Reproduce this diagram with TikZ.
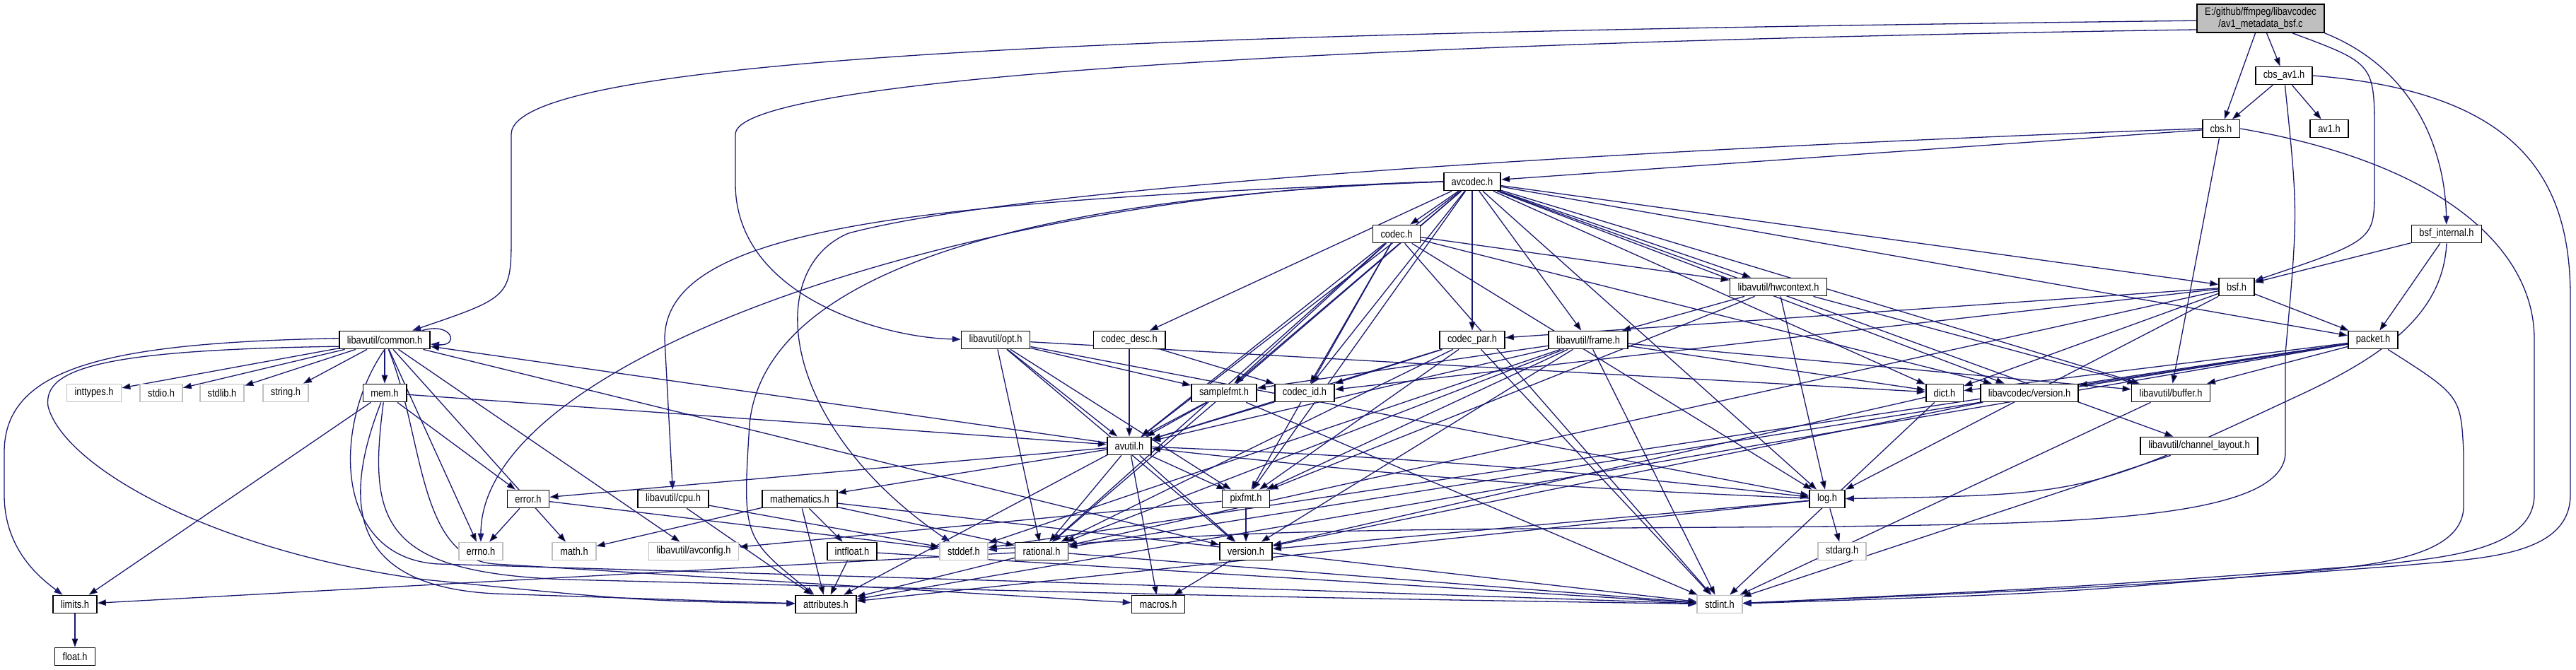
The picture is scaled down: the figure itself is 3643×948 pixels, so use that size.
\documentclass[tikz,border=0pt]{standalone}
\usepackage{fontspec}
\usetikzlibrary{arrows.meta}
\newfontfamily\dotfont[FakeStretch=0.85]{Liberation Sans}
\definecolor{edgeblue}{RGB}{25,25,112}
\definecolor{sysgray}{RGB}{191,191,191}
\pgfdeclarelayer{edges}
\pgfsetlayers{edges,main}
\tikzset{>={Triangle[length=2.4mm,width=1.7mm]}}

\begin{document}
\begin{tikzpicture}[x=0.2mm,y=-0.2mm,
   hdr/.style={draw=black,line width=0.35mm,fill=white,minimum height=5mm,inner xsep=2.2mm,inner ysep=0pt,font={\dotfont\fontsize{8.6pt}{9.6pt}\selectfont}},
   sys/.style={hdr,draw=sysgray},
   src/.style={hdr,fill=sysgray,minimum height=8mm,align=center},
   dep/.style={->,draw=edgeblue,line width=0.26mm}]
  \useasboundingbox (0,0) rectangle (3643,948);
  \node[src] (root) at (3197,26) {E:/github/ffmpeg/libavcodec\\/av1\_metadata\_bsf.c};
  \node[hdr] (cbsavone) at (3230,107) {cbs\_av1.h};
  \node[hdr] (cbs) at (3141,182) {cbs.h};
  \node[hdr] (avone) at (3294,182) {av1.h};
  \node[hdr] (avcodec) at (2082,257) {avcodec.h};
  \node[hdr] (codec) at (1975,331) {codec.h};
  \node[hdr] (bsfint) at (3460,331) {bsf\_internal.h};
  \node[hdr] (hwctx) at (2515,406) {libavutil/hwcontext.h};
  \node[hdr] (bsf) at (3163,406) {bsf.h};
  \node[hdr] (common) at (544,481) {libavutil/common.h};
  \node[hdr] (opt) at (1408,481) {libavutil/opt.h};
  \node[hdr] (codecdesc) at (1597,481) {codec\_desc.h};
  \node[hdr] (codecpar) at (2082,481) {codec\_par.h};
  \node[hdr] (frame) at (2246,481) {libavutil/frame.h};
  \node[hdr] (packet) at (3356,481) {packet.h};
  \node[sys] (inttypes) at (133,556) {inttypes.h};
  \node[sys] (stdio) at (228,556) {stdio.h};
  \node[sys] (stdlib) at (314,556) {stdlib.h};
  \node[sys] (string) at (404,556) {string.h};
  \node[hdr] (mem) at (544,556) {mem.h};
  \node[hdr] (samplefmt) at (1731,556) {samplefmt.h};
  \node[hdr] (codecid) at (1845,556) {codec\_id.h};
  \node[hdr] (dict) at (2750,556) {dict.h};
  \node[hdr] (lavcver) at (2870,556) {libavcodec/version.h};
  \node[hdr] (buffer) at (3070,556) {libavutil/buffer.h};
  \node[hdr] (avutil) at (1597,631) {avutil.h};
  \node[hdr] (chlayout) at (3110,631) {libavutil/channel\_layout.h};
  \node[hdr] (error) at (747,706) {error.h};
  \node[hdr] (cpu) at (952,706) {libavutil/cpu.h};
  \node[hdr] (mathem) at (1131,706) {mathematics.h};
  \node[hdr] (pixfmt) at (1762,706) {pixfmt.h};
  \node[hdr] (log) at (2584,706) {log.h};
  \node[sys] (errno) at (680,780) {errno.h};
  \node[sys] (math) at (812,780) {math.h};
  \node[sys] (avconfig) at (981,780) {libavutil/avconfig.h};
  \node[hdr] (intfloat) at (1205,780) {intfloat.h};
  \node[sys] (stddef) at (1363,780) {stddef.h};
  \node[hdr] (rational) at (1473,780) {rational.h};
  \node[hdr] (version) at (1762,780) {version.h};
  \node[sys] (stdarg) at (2605,780) {stdarg.h};
  \node[hdr] (limits) at (106,855) {limits.h};
  \node[hdr] (attributes) at (1168,855) {attributes.h};
  \node[hdr] (macros) at (1638,855) {macros.h};
  \node[sys] (stdint) at (2432,855) {stdint.h};
  \node[hdr] (float) at (106,929) {float.h};
  \begin{pgfonlayer}{edges}
  \draw[dep] (root.182) .. controls (1800,45) and (723,70) .. (723,190) -- (723,330) .. controls (723,420) .. (common);
  \draw[dep] (root.190) .. controls (1900,60) and (1040,110) .. (1040,190) -- (1040,260) .. controls (1040,420) and (1250,478) .. (opt);
  \draw[dep] (root) edge (cbs) edge (cbsavone);
  \draw[dep] ([xshift=9mm]root.south) .. controls (3358,90) .. (3358,190) -- (3358,267) .. controls (3358,340) .. (bsf);
  \draw[dep] (root.south east) .. controls (3420,100) and (3458,220) .. (bsfint);
  \draw[dep] (cbsavone) edge (cbs) edge (avone);
  \draw[dep] (cbsavone.east) .. controls (3560,130) and (3635,250) .. (3635,420) -- (3635,700) .. controls (3635,790) and (3500,790) .. (3400,800) .. controls (3000,830) .. (stdint);
  \draw[dep] (cbsavone) .. controls (3250,300) .. (3232,500) -- (3232,640) .. controls (3232,740) and (2900,740) .. (2600,745) .. controls (1800,750) .. (stddef);
  \draw[dep] (cbs) edge (avcodec) edge (buffer);
  \draw[dep] (cbs.west) .. controls (2600,200) and (1500,250) .. (1200,330) .. controls (1080,380) and (1100,600) .. (stddef);
  \draw[dep] (cbs.east) .. controls (3450,230) and (3584,350) .. (3584,480) -- (3584,700) .. controls (3584,780) and (3450,790) .. (3350,800) .. controls (2950,830) .. (stdint);
  \draw[dep] (avcodec.west) .. controls (1400,270) and (680,500) .. (errno);
  \draw[dep] (avcodec.west) .. controls (1300,285) and (940,320) .. (940,480) -- (cpu);
  \draw[dep] (avcodec.west) .. controls (1400,280) and (1080,400) .. (1060,600) .. controls (1050,760) .. (attributes);
  \draw[dep] (avcodec) edge (samplefmt) edge (avutil) edge (codec) edge (codecdesc) edge (codecpar) edge (codecid)
     edge (frame) edge (hwctx) edge (log) edge (pixfmt) edge (rational) edge (dict) edge (lavcver) edge (buffer)
     edge (chlayout) edge (bsf) edge (packet);
  \draw[dep] (codec) edge (stdint) edge (avutil) edge (hwctx) edge (log) edge (pixfmt) edge (rational) edge (samplefmt)
     edge (codecid) edge (lavcver);
  \draw[dep] (bsfint) edge (bsf) edge (packet);
  \draw[dep] (bsfint.south) .. controls (3455,440) and (3380,500) .. (3250,560) .. controls (2950,700) .. (log);
  \draw[dep] (hwctx) edge (buffer) edge (frame) edge (log) edge (pixfmt);
  \draw[dep] (bsf) edge (dict) edge (log) edge (rational) edge (codecid) edge (codecpar) edge (packet);
  \draw[dep] (common) edge (inttypes) edge (stdio) edge (stdlib) edge (string) edge (mem) edge (errno) edge (math)
     edge (avconfig) edge (version);
  \draw[dep] (common.178) .. controls (150,485) and (6,520) .. (6,640) -- (6,700) .. controls (6,780) and (60,820) .. (limits);
  \draw[dep] (common.188) .. controls (150,495) and (60,520) .. (68,575) .. controls (90,660) and (300,780) .. (600,820) .. controls (900,850) .. (attributes);
  \draw[dep] (common.south) .. controls (470,600) and (470,790) .. (620,798) .. controls (1700,830) .. (stdint);
  \draw[dep] (common) .. controls (600,620) and (590,790) .. (700,798) .. controls (1300,835) .. (macros);
  \draw[dep] ([xshift=-2.4mm]common.north east) .. controls (640,455) and (650,490) .. ([yshift=-1.2mm]common.east);
  \draw[dep] (mem) edge (limits) edge (error) edge (avutil);
  \draw[dep] (mem) .. controls (480,720) and (500,830) .. (700,840) .. controls (1000,850) .. (attributes);
  \draw[dep] (mem) .. controls (520,740) and (540,810) .. (800,820) .. controls (1800,845) .. (stdint);
  \draw[dep] (opt) edge (rational) edge (avutil) edge (dict) edge (log) edge (pixfmt) edge (samplefmt) edge (version);
  \draw[dep] (codecdesc) edge (avutil) edge (codecid);
  \draw[dep] (codecpar) edge (stdint) edge (avutil) edge (rational) edge (pixfmt) edge (codecid);
  \draw[dep] (frame) edge (stddef) edge (stdint) edge (avutil) edge (buffer) edge (dict) edge (rational) edge (samplefmt)
     edge (pixfmt) edge (version);
  \draw[dep] (packet) edge (stddef) edge (attributes) edge (buffer) edge (dict) edge (rational) edge (lavcver);
  \draw[dep] (packet) .. controls (3480,560) .. (3484,640) -- (3484,716) .. controls (3484,790) and (3350,800) .. (3250,810) .. controls (2900,840) .. (stdint);
  \draw[dep] (samplefmt) edge (stdint) edge (avutil) edge (attributes);
  \draw[dep] (codecid) edge (avutil);
  \draw[dep] (dict) edge (stdint) edge (version);
  \draw[dep] (lavcver) edge (version);
  \draw[dep] (buffer) edge (stdint);
  \draw[dep] (chlayout) edge (stdint);
  \draw[dep] (avutil) edge (common) edge (error) edge (rational) edge (version) edge (macros) edge (mathem) edge (pixfmt)
     edge[bend left=2] (log);
  \draw[dep] (log) edge[bend left=2] (avutil) edge (stdarg) edge (attributes) edge (version);
  \draw[dep] (error) edge (errno) edge (stddef);
  \draw[dep] (cpu) edge (stddef) edge (attributes);
  \draw[dep] (mathem) edge (stdint) edge (math) edge (attributes) edge (rational) edge (intfloat);
  \draw[dep] (pixfmt) edge (avconfig) edge (version);
  \draw[dep] (intfloat) edge (stdint) edge (attributes);
  \draw[dep] (rational) edge (stdint) edge (limits) edge (attributes);
  \draw[dep] (version) edge (macros);
  \draw[dep] (limits) edge (float);
  \end{pgfonlayer}
\end{tikzpicture}
\end{document}
